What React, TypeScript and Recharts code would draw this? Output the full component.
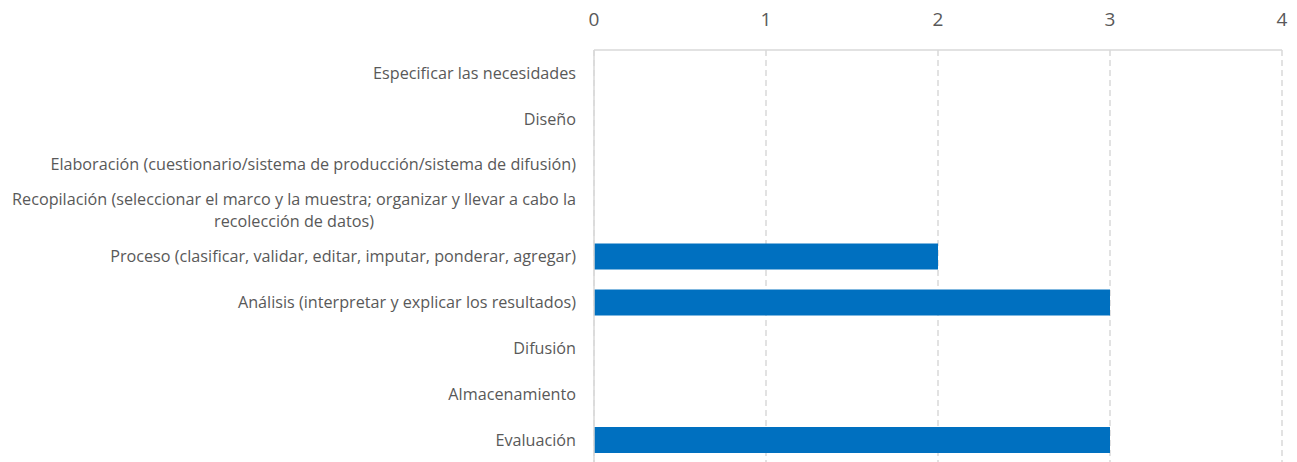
import { Bar, BarChart, CartesianGrid, XAxis, YAxis } from "recharts";

const categories = [
  "Especificar las necesidades",
  "Diseño",
  "Elaboración (cuestionario/sistema de producción/sistema de difusión)",
  "Recopilación (seleccionar el marco y la muestra; organizar y llevar a cabo la\nrecolección de datos)",
  "Proceso (clasificar, validar, editar, imputar, ponderar, agregar)",
  "Análisis (interpretar y explicar los resultados)",
  "Difusión",
  "Almacenamiento",
  "Evaluación",
];

const values = [0, 0, 0, 0, 2, 3, 0, 0, 3];

const xTicks = [0, 1, 2, 3, 4];

const FONT = "'Open Sans', sans-serif";
const LABEL_SIZE = 16.2;
const TEXT_COLOR = "#595959";
const GRID_COLOR = "#d9d9d9";

const data = categories.map((name, i) => ({ name, value: values[i] }));

let canvasCtx: CanvasRenderingContext2D | null = null;
/** Measure text width so wrapped lines can be centred like Excel does */
function measure(text: string): number {
  if (!canvasCtx) {
    canvasCtx = document.createElement("canvas").getContext("2d");
  }
  if (!canvasCtx) return text.length * LABEL_SIZE * 0.5;
  canvasCtx.font = `${LABEL_SIZE}px 'Open Sans'`;
  return canvasCtx.measureText(text).width;
}

function CategoryTick({ x, y, payload }: any) {
  const lines: string[] = String(payload.value).split("\n");
  const right = x - 10;
  const lineHeight = 22;
  if (lines.length === 1) {
    return (
      <text
        x={right}
        y={y}
        dy="0.35em"
        textAnchor="end"
        fill={TEXT_COLOR}
        fontFamily={FONT}
        fontSize={LABEL_SIZE}
      >
        {lines[0]}
      </text>
    );
  }
  const widest = Math.max(...lines.map(measure));
  const center = right - widest / 2;
  const startY = y - ((lines.length - 1) * lineHeight) / 2;
  return (
    <text
      textAnchor="middle"
      fill={TEXT_COLOR}
      fontFamily={FONT}
      fontSize={LABEL_SIZE}
    >
      {lines.map((line, i) => (
        <tspan key={i} x={center} y={startY + i * lineHeight} dy="0.35em">
          {line}
        </tspan>
      ))}
    </text>
  );
}

export default function App() {
  return (
    <div style={{ position: "absolute", left: 0, top: 0, width: 1297, height: 462, overflow: "hidden", background: "#fff" }}>
      <BarChart
        width={1297}
        height={463}
        data={data}
        layout="vertical"
        margin={{ top: 0, right: 15, bottom: 0, left: 0 }}
      >
        <CartesianGrid
          horizontal={false}
          stroke={GRID_COLOR}
          strokeDasharray="6 4"
          strokeWidth={1.5}
        />
        <XAxis
          type="number"
          orientation="top"
          domain={[0, 4]}
          ticks={xTicks}
          height={50}
          tickLine={false}
          axisLine={{ stroke: GRID_COLOR, strokeWidth: 1.5 }}
          tickMargin={18}
          tick={{ fill: TEXT_COLOR, fontSize: 19, fontFamily: FONT }}
        />
        <YAxis
          type="category"
          dataKey="name"
          width={594}
          tickLine={false}
          axisLine={{ stroke: GRID_COLOR, strokeWidth: 1.5 }}
          tick={<CategoryTick />}
          interval={0}
        />
        <Bar dataKey="value" fill="#0070c0" barSize={26} isAnimationActive={false} />
      </BarChart>
    </div>
  );
}
